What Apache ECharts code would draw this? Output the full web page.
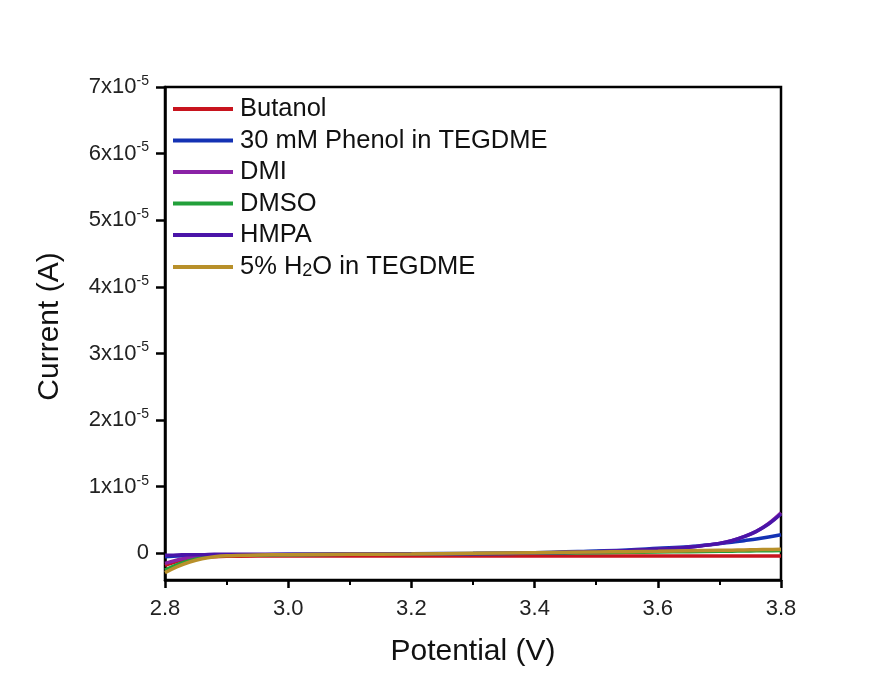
<!DOCTYPE html>
<html>
<head>
<meta charset="utf-8">
<script src="https://cdn.jsdelivr.net/npm/echarts@6/dist/echarts.min.js"></script>
<style>
html,body{margin:0;padding:0;background:#fff;}
#chart{width:896px;height:682px;}
</style>
</head>
<body>
<div id="chart"></div>
<script>
// Potential (V)
const potential = [2.80, 2.82, 2.84, 2.86, 2.88, 2.90, 2.95, 3.00, 3.10, 3.20, 3.30, 3.40, 3.50, 3.55, 3.60, 3.65, 3.70, 3.72, 3.74, 3.76, 3.78, 3.80];
// Current (A)
const butanol = [-1.8e-6, -1.2e-6, -0.8e-6, -0.6e-6, -0.5e-6, -0.45e-6, -0.4e-6, -0.4e-6, -0.4e-6, -0.4e-6, -0.4e-6, -0.4e-6, -0.4e-6, -0.4e-6, -0.4e-6, -0.4e-6, -0.4e-6, -0.4e-6, -0.4e-6, -0.4e-6, -0.4e-6, -0.4e-6];
const phenol = [-0.5e-6, -0.4e-6, -0.3e-6, -0.25e-6, -0.2e-6, -0.2e-6, -0.2e-6, -0.15e-6, -0.1e-6, -0.05e-6, 0.0, 0.1e-6, 0.35e-6, 0.5e-6, 0.75e-6, 1.0e-6, 1.45e-6, 1.65e-6, 1.9e-6, 2.15e-6, 2.45e-6, 2.8e-6];
const dmi = [-1.5e-6, -1.0e-6, -0.6e-6, -0.4e-6, -0.3e-6, -0.25e-6, -0.2e-6, -0.2e-6, -0.15e-6, -0.1e-6, -0.05e-6, 0.05e-6, 0.25e-6, 0.4e-6, 0.6e-6, 0.9e-6, 1.5e-6, 1.9e-6, 2.5e-6, 3.3e-6, 4.5e-6, 6.1e-6];
const dmso = [-2.5e-6, -1.7e-6, -1.1e-6, -0.7e-6, -0.45e-6, -0.3e-6, -0.25e-6, -0.2e-6, -0.15e-6, -0.1e-6, -0.05e-6, 0.0, 0.1e-6, 0.15e-6, 0.2e-6, 0.25e-6, 0.3e-6, 0.32e-6, 0.35e-6, 0.38e-6, 0.4e-6, 0.42e-6];
const hmpa = [-0.3e-6, -0.25e-6, -0.2e-6, -0.2e-6, -0.15e-6, -0.15e-6, -0.15e-6, -0.15e-6, -0.1e-6, -0.1e-6, -0.05e-6, 0.05e-6, 0.25e-6, 0.4e-6, 0.6e-6, 0.9e-6, 1.5e-6, 1.9e-6, 2.5e-6, 3.3e-6, 4.4e-6, 5.9e-6];
const water = [-2.9e-6, -2.0e-6, -1.3e-6, -0.8e-6, -0.5e-6, -0.35e-6, -0.25e-6, -0.2e-6, -0.15e-6, -0.1e-6, 0.0, 0.1e-6, 0.2e-6, 0.25e-6, 0.3e-6, 0.38e-6, 0.45e-6, 0.48e-6, 0.52e-6, 0.55e-6, 0.58e-6, 0.6e-6];

const seriesNames = ['Butanol', '30 mM Phenol in TEGDME', 'DMI', 'DMSO', 'HMPA', '5% H2O in TEGDME'];
const seriesColors = ['#C8141E', '#1432B4', '#8A22A6', '#22A03A', '#4A14A8', '#B8902A'];
const seriesValues = [butanol, phenol, dmi, dmso, hmpa, water];

const xTicks = [2.8, 3.0, 3.2, 3.4, 3.6, 3.8];
const yTicks = [0, 1e-5, 2e-5, 3e-5, 4e-5, 5e-5, 6e-5, 7e-5];
const yTickMantissa = ['0', '1', '2', '3', '4', '5', '6', '7'];

const FONT = '"Liberation Sans", Arial, sans-serif';

const chart = echarts.init(document.getElementById('chart'), null, {renderer: 'canvas'});

const series = seriesNames.map((name, i) => ({
  name: name,
  type: 'line',
  smooth: 0.4,
  showSymbol: false,
  symbol: 'none',
  lineStyle: {color: seriesColors[i], width: 3.5},
  itemStyle: {color: seriesColors[i]},
  data: potential.map((x, j) => [x, seriesValues[i][j]]),
  z: 2 + i
}));

chart.setOption({
  backgroundColor: '#ffffff',
  animation: false,
  textStyle: {fontFamily: FONT},
  grid: {left: 165, right: 115, top: 87, bottom: 102, show: true, borderColor: '#000', borderWidth: 2.5, backgroundColor: 'transparent'},
  legend: {
    orient: 'vertical',
    left: 173,
    top: 96,
    padding: 0,
    itemWidth: 60,
    itemHeight: 4,
    itemGap: 5.5,
    icon: 'rect',
    data: seriesNames.map((n, i) => ({name: n, itemStyle: {color: seriesColors[i]}})),
    formatter: function (name) {
      if (name === '5% H2O in TEGDME') return '5% H{sub|2}O in TEGDME';
      return name;
    },
    textStyle: {
      fontFamily: FONT, fontSize: 25.5, color: '#111', lineHeight: 25, padding: [0, 0, 0, 2],
      rich: {sub: {fontFamily: FONT, fontSize: 18, color: '#111', padding: [9, 0, 0, 0], lineHeight: 24}}
    }
  },
  xAxis: {
    type: 'value',
    min: 2.8,
    max: 3.8,
    interval: 0.2,
    name: 'Potential (V)',
    nameLocation: 'middle',
    nameGap: 57,
    nameTextStyle: {fontFamily: FONT, fontSize: 30, color: '#111'},
    axisLine: {show: true, onZero: false, lineStyle: {color: '#000', width: 2.5}},
    axisTick: {show: true, inside: false, length: 8, lineStyle: {color: '#000', width: 2.5}},
    minorTick: {show: true, splitNumber: 2, length: 5, lineStyle: {color: '#000', width: 2}},
    splitLine: {show: false},
    axisLabel: {fontFamily: FONT, fontSize: 22, color: '#222', margin: 18, formatter: v => v.toFixed(1)}
  },
  yAxis: {
    type: 'value',
    min: -4e-6,
    max: 7e-5,
    name: 'Current (A)',
    nameLocation: 'middle',
    nameGap: 100,
    nameTextStyle: {fontFamily: FONT, fontSize: 30, color: '#111', padding: [0, 0, 0, 14]},
    axisLine: {show: true, onZero: false, lineStyle: {color: '#000', width: 2.5}},
    axisTick: {show: true, inside: false, length: 9, customValues: yTicks, lineStyle: {color: '#000', width: 2.5}},
    splitLine: {show: false},
    axisLabel: {
      customValues: yTicks,
      fontFamily: FONT, fontSize: 22, color: '#222', margin: 16,
      formatter: function (v) {
        const k = Math.round(v / 1e-5);
        const m = yTickMantissa[k];
        if (k === 0) return '{m|0}';
        return '{m|' + m + 'x10}{s|-5}';
      },
      rich: {
        m: {fontFamily: FONT, fontSize: 22, color: '#222'},
        s: {fontFamily: FONT, fontSize: 14, color: '#222', verticalAlign: 'top', padding: [0, 0, 12, 0]}
      }
    }
  },
  series: series
});
</script>
</body>
</html>
